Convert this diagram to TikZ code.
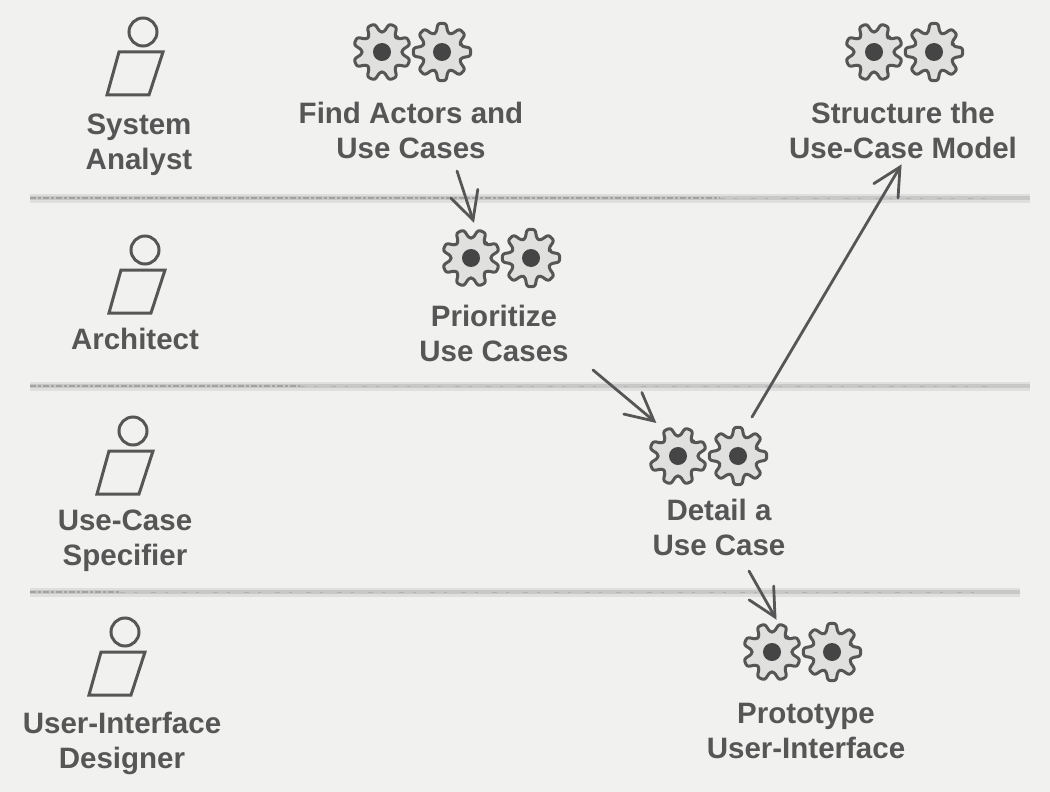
\documentclass[tikz,border=0pt]{standalone}
\usepackage{fontspec}
\setmainfont{Liberation Sans}
\usetikzlibrary{calc}
\definecolor{ink}{HTML}{565656}
\definecolor{paper}{HTML}{F1F1EF}
\definecolor{gearfill}{HTML}{E0E0DE}
\definecolor{hub}{HTML}{454545}
\definecolor{rule}{HTML}{C8C8C8}
\tikzset{
  x=1pt,y=-1pt,
  lbl/.style={font=\fontsize{29.5}{35}\selectfont\bfseries,text=ink,align=center,inner sep=0pt},
  flow/.style={draw=ink,line width=2.8pt,line cap=round,line join=miter},
  laneglow/.style={draw=rule!45!paper,line width=9pt},
  lane/.style={draw=rule,line width=4.5pt},
  lanedense/.style={draw=ink!55,line width=1.1pt,dash pattern=on 6pt off 2pt on 3pt off 2pt},
  lanesparse/.style={draw=ink!45,line width=1pt,dash pattern=on 5pt off 9pt on 3pt off 14pt},
  actorline/.style={draw=ink,line width=3pt,line join=miter},
  gearline/.style={draw=ink,line width=3pt,fill=gearfill,line join=round,rounded corners=2.5pt},
  pics/gear/.style={code={
    \draw[gearline] (-17:20)
      \foreach \a in {0,45,...,315}{ -- (\a-17:20) -- (\a-8:29) -- (\a+8:29) -- (\a+17:20) } -- cycle;
    \fill[hub] (0,0) circle[radius=9];
  }},
  pics/twogears/.style={code={
    \pic[rotate=22.5] at (-30,0) {gear};
    \pic at (30,0) {gear};
  }},
  pics/actor/.style={code={
    \draw[actorline] (0,0) circle[radius=14];
    \draw[actorline] (-24,20) -- (20,20) -- (6,63) -- (-36,63) -- cycle;
  }}
}
\newcommand{\flowarrow}[2]{%
  \draw[flow] (#1) -- (#2);
  \draw[flow] ($(#2)!31pt!27:(#1)$) -- (#2) -- ($(#2)!31pt!-27:(#1)$);
}
\begin{document}
\begin{tikzpicture}
\useasboundingbox[fill=paper] (0,0) rectangle (1050,792);
% lanes
\foreach \y/\x/\m in {198/1030/720,386/1030/300,592/1020/120}{
  \draw[laneglow] (30,\y) -- (\x,\y);
  \draw[lane] (30,\y) -- (\x,\y);
  \draw[lanedense] (30,\y) -- (\m,\y);
  \draw[lanesparse] (\m,\y) -- (\x-40,\y);
}
% actors
\pic at (143,32) {actor};
\pic at (145,250) {actor};
\pic at (133,431) {actor};
\pic at (125,632) {actor};
\node[lbl] (a1) at (139,145) {System\\Analyst};
\node[lbl] (a2) at (135,339) {Architect};
\node[lbl] (a3) at (125,541) {Use-Case\\Specifier};
\node[lbl] (a4) at (122,743) {User-Interface\\Designer};
% activities
\pic at (412,52) {twogears};
\pic at (904,52) {twogears};
\pic at (501,258) {twogears};
\pic at (708,456) {twogears};
\pic at (802,652) {twogears};
\node[lbl] (t1) at (411,130) {Find Actors and\\Use Cases};
\node[lbl] (t2) at (903,130) {Structure the\\Use-Case Model};
\node[lbl] (t3) at (494,333) {Prioritize\\Use Cases};
\node[lbl] (t4) at (719,527) {Detail a\\Use Case};
\node[lbl] (t5) at (806,731) {Prototype\\User-Interface};
% connectors
\coordinate (c1s) at (457,171); \coordinate (c1e) at (473,220);
\coordinate (c2s) at (593,370); \coordinate (c2e) at (654,421);
\coordinate (c3s) at (752,417); \coordinate (c3e) at (900,167);
\coordinate (c4s) at (749,571); \coordinate (c4e) at (775,617);
\flowarrow{c1s}{c1e}
\flowarrow{c2s}{c2e}
\flowarrow{c3s}{c3e}
\flowarrow{c4s}{c4e}
\end{tikzpicture}
\end{document}
